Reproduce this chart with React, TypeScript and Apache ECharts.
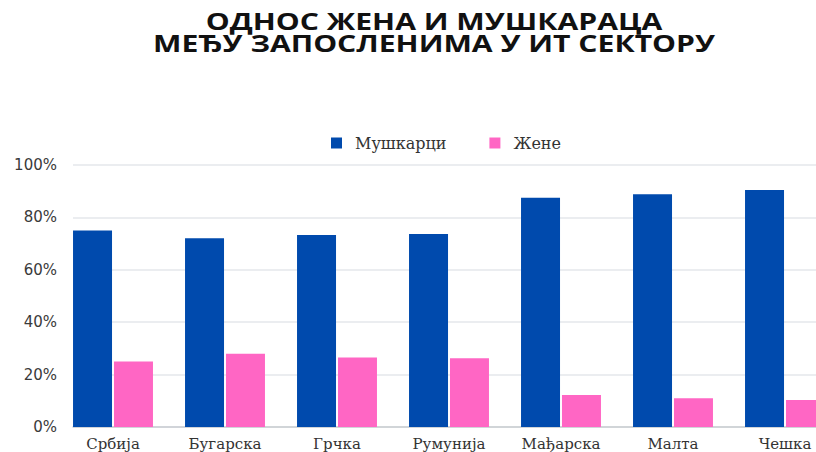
import React, { useEffect, useRef } from "react";
import * as echarts from "echarts";

const categories = ["Србија", "Бугарска", "Грчка", "Румунија", "Мађарска", "Малта", "Чешка"];
const menValues = [75, 72, 73.3, 73.7, 87.5, 88.8, 90.5];
const womenValues = [25, 28, 26.5, 26.2, 12.2, 11, 10.3];
const seriesNames = ["Мушкарци", "Жене"];
const titleLines = ["ОДНОС ЖЕНА И МУШКАРАЦА", "МЕЂУ ЗАПОСЛЕНИМА У ИТ СЕКТОРУ"];

export default function App() {
  const ref = useRef<HTMLDivElement>(null);
  useEffect(() => {
    if (!ref.current) return;
    const chart = echarts.init(ref.current, undefined, { renderer: "svg" });
    chart.setOption({
      animation: false,
      backgroundColor: "#ffffff",
      graphic: [
        {
          type: "text",
          x: 434,
          y: 32,
          scaleX: 1.31,
          style: {
            text: titleLines.join("\n"),
            textAlign: "center",
            textVerticalAlign: "middle",
            font: "bold 23px 'Open Sans'",
            lineHeight: 22,
            fill: "#111111",
          },
        },
      ],
      legend: {
        top: 130,
        left: 326,
        itemWidth: 11,
        itemHeight: 11,
        itemGap: 43,
        icon: "rect",
        textStyle: {
          fontFamily: "'DejaVu Serif'",
          fontSize: 16,
          color: "#333333",
          padding: [0, 0, 0, 8],
        },
        data: seriesNames,
      },
      grid: [
        { left: 73, right: 0, top: 165, bottom: 25 },
        { left: 57, right: 0, top: 165, bottom: 25 },
      ],
      xAxis: [
        {
          gridIndex: 0,
          type: "value",
          min: 0,
          max: 1,
          axisLabel: { show: false },
          axisTick: { show: false },
          splitLine: { show: false },
          axisLine: { show: true, lineStyle: { color: "#c9ccd1", width: 1.5 } },
        },
        {
          gridIndex: 1,
          type: "category",
          data: categories,
          axisLine: { show: false },
          axisTick: { show: false },
          axisLabel: {
            fontFamily: "'DejaVu Serif'",
            fontSize: 15,
            color: "#333333",
            margin: 9,
          },
        },
      ],
      yAxis: [
        {
          gridIndex: 0,
          type: "value",
          min: 0,
          max: 100,
          interval: 20,
          axisLine: { show: false },
          axisTick: { show: false },
          axisLabel: {
            formatter: "{value}%",
            fontFamily: "'DejaVu Sans'",
            fontSize: 15,
            color: "#3a3a3a",
            margin: 16,
          },
          splitLine: { lineStyle: { color: "#e4e7eb", width: 1.5 } },
        },
        {
          gridIndex: 1,
          type: "value",
          min: 0,
          max: 100,
          interval: 20,
          show: false,
          splitLine: { show: false },
        },
      ],
      series: [
        {
          name: seriesNames[0],
          type: "bar",
          xAxisIndex: 1,
          yAxisIndex: 1,
          data: menValues,
          barWidth: 39,
          barGap: "5%",
          itemStyle: { color: "#004aad" },
        },
        {
          name: seriesNames[1],
          type: "bar",
          xAxisIndex: 1,
          yAxisIndex: 1,
          data: womenValues,
          barWidth: 39,
          barGap: "5%",
          itemStyle: { color: "#ff66c4" },
        },
      ],
    });
    return () => chart.dispose();
  }, []);
  return (
    <div style={{ position: "fixed", left: 0, top: 0, width: 816, height: 452, overflow: "hidden" }}>
      <div ref={ref} style={{ width: 841, height: 452 }} />
    </div>
  );
}
